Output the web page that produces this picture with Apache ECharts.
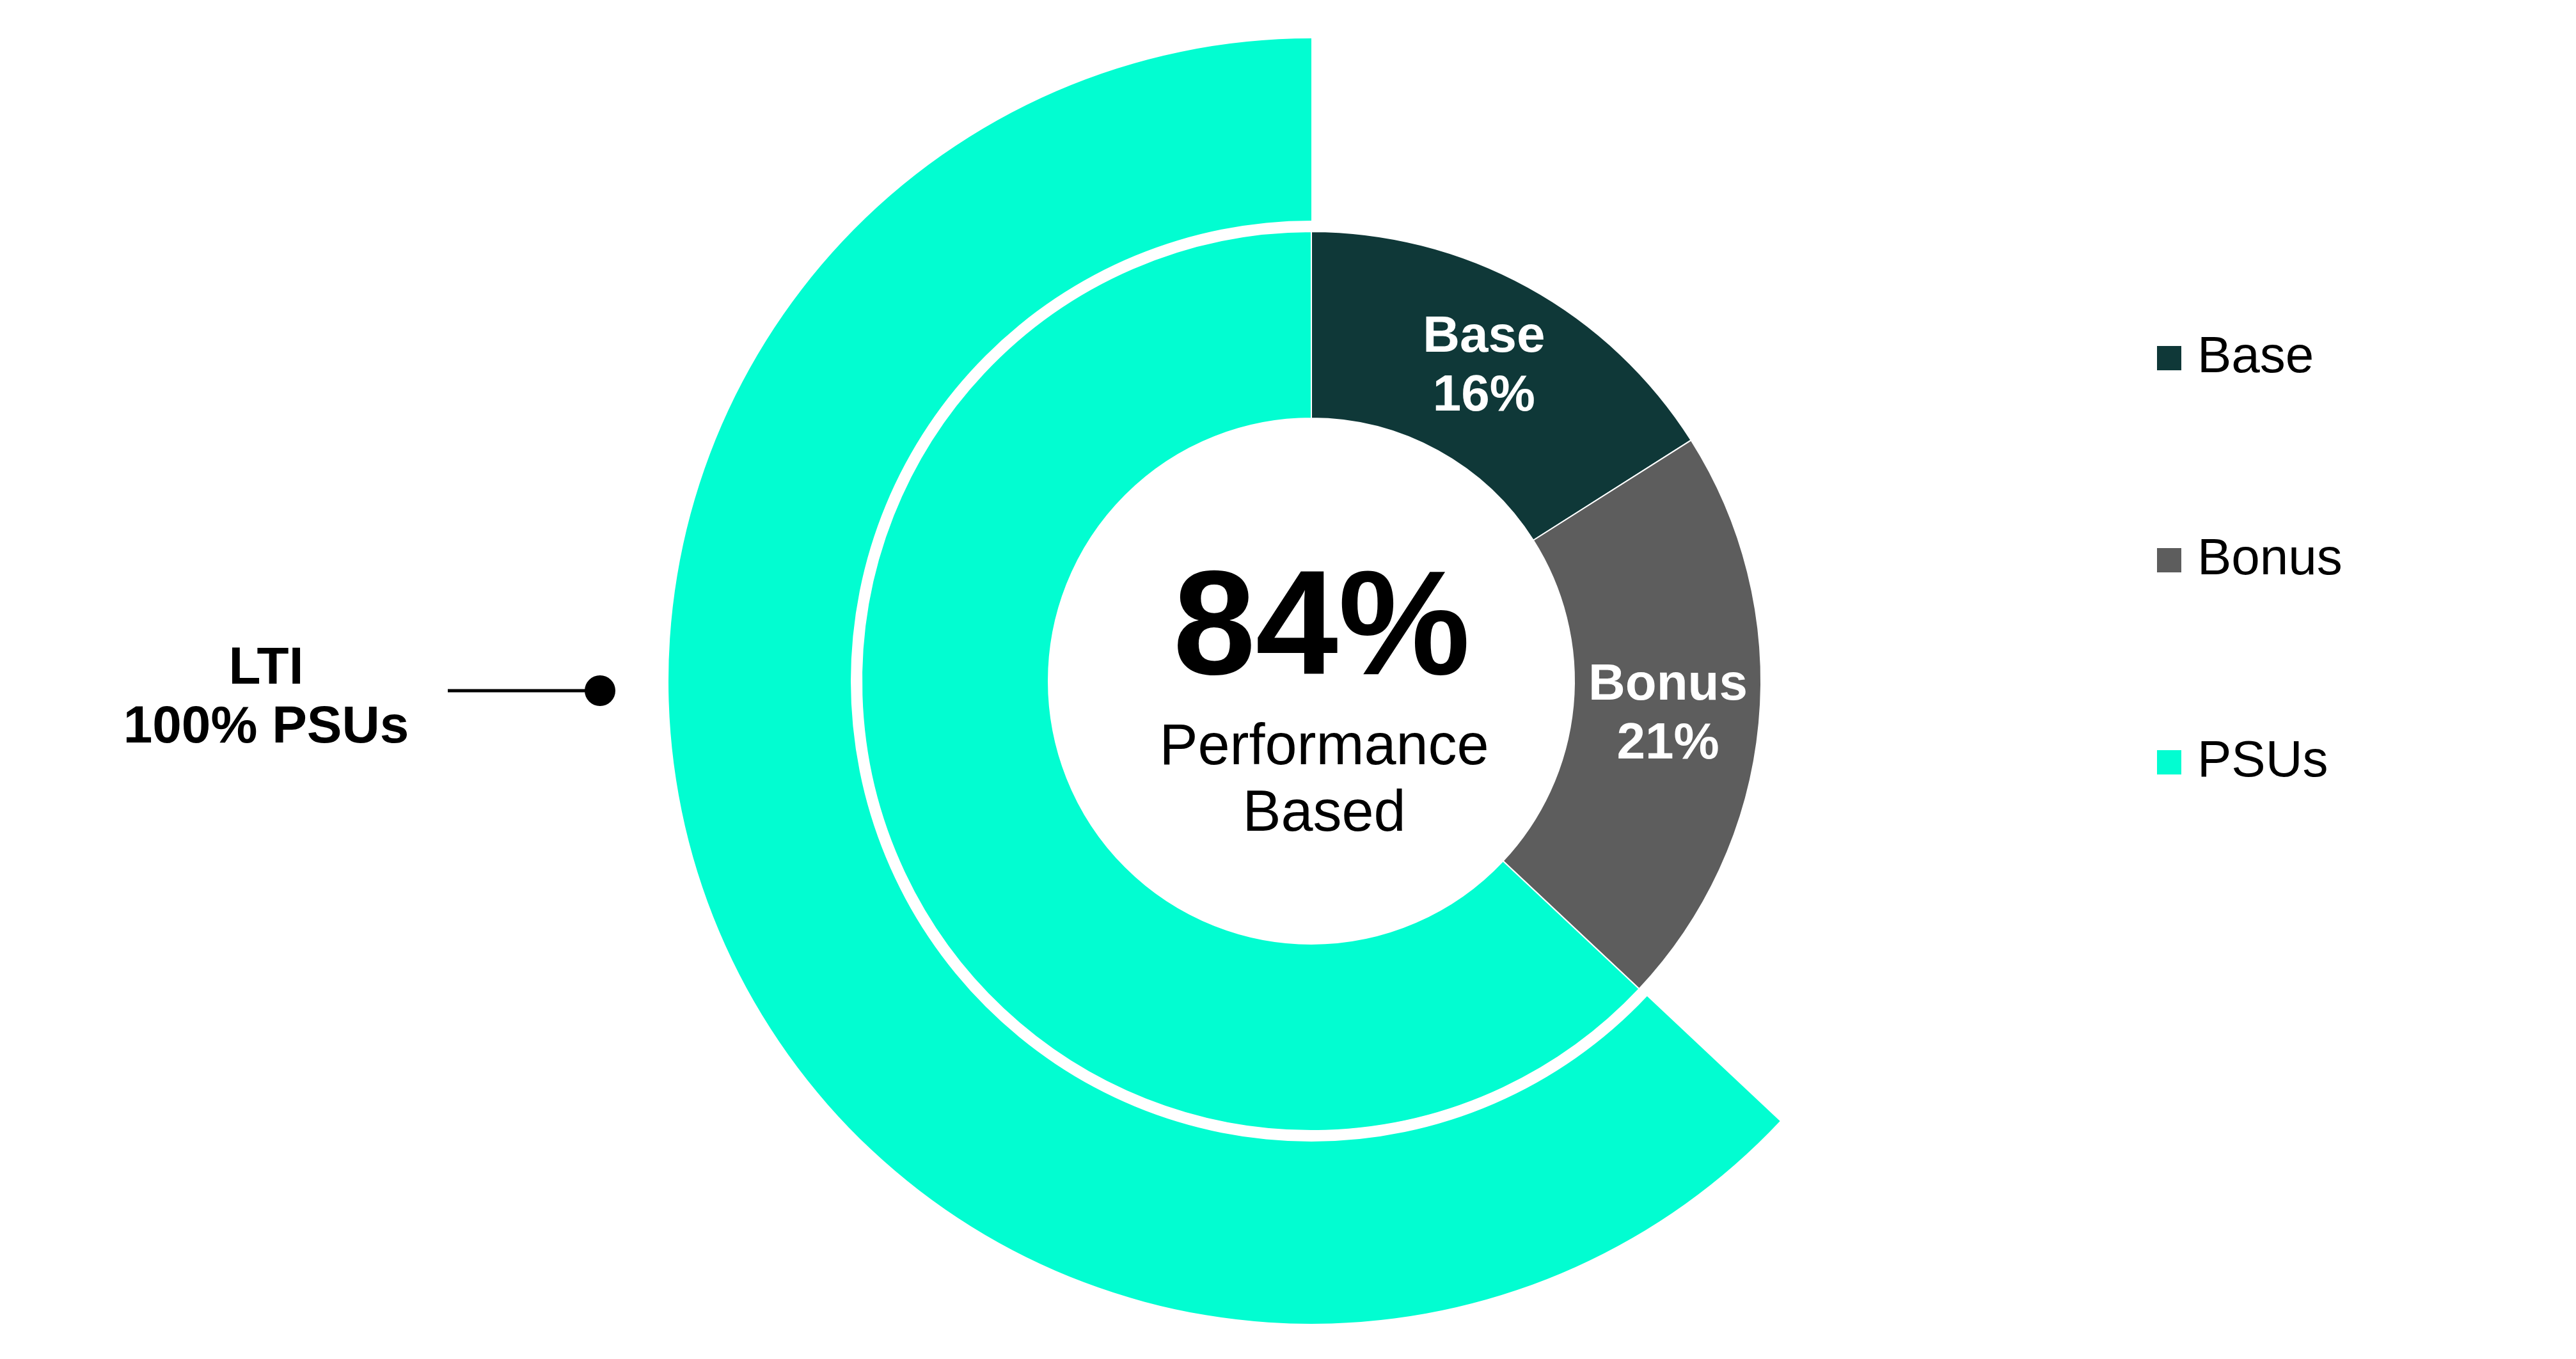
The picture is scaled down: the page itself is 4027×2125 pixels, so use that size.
<!DOCTYPE html>
<html>
<head>
<meta charset="utf-8">
<script src="https://cdn.jsdelivr.net/npm/echarts@6/dist/echarts.min.js"></script>
<style>
  html, body { margin: 0; padding: 0; background: #fff; }
  #main { width: 4027px; height: 2125px; }
</style>
</head>
<body>
<div id="main"></div>
<script>
// pay mix (inner ring)
const categories = ['Base', 'Bonus', 'PSUs'];
const payMix = [16, 21, 63];
const mixColors = ['#0f3838', '#5d5d5d', '#02fdd1'];

// outer arc: gap before LTI, LTI share
const arcNames = ['', 'LTI'];
const arcValues = [37, 63];

const headline = '84%';
const headlineSub = 'Performance\nBased';
const calloutText = 'LTI\n100% PSUs';

const FONT = '"Liberation Sans", Arial, sans-serif';

let chart = echarts.init(document.getElementById('main'));

let innerData = [];
for (let i = 0; i < categories.length; i++) {
    innerData.push({
        name: categories[i],
        value: payMix[i],
        itemStyle: { color: mixColors[i] },
        label: { show: i < 2 }   // no label on the PSU slice
    });
}

let outerData = [
    { name: arcNames[0], value: arcValues[0], itemStyle: { color: 'rgba(0,0,0,0)' } },
    { name: arcNames[1], value: arcValues[1], itemStyle: { color: mixColors[2] } }
];

let option = {
    backgroundColor: '#ffffff',
    animation: false,
    legend: {
        orient: 'vertical',
        left: 3365,
        top: 515,
        itemWidth: 40,
        itemHeight: 40,
        itemGap: 236,
        icon: 'rect',
        data: categories,
        textStyle: {
            fontFamily: FONT,
            fontSize: 80,
            lineHeight: 80,
            color: '#000',
            padding: [0, 0, 0, 19]
        }
    },
    series: [
        {
            name: 'LTI',
            type: 'pie',
            center: [2050, 1065],
            radius: [720, 1005],
            startAngle: 90,
            clockwise: true,
            silent: true,
            label: { show: false },
            labelLine: { show: false },
            data: outerData
        },
        {
            name: 'Pay mix',
            type: 'pie',
            center: [2050, 1065],
            radius: [411, 703],
            startAngle: 90,
            clockwise: true,
            itemStyle: { borderColor: '#ffffff', borderWidth: 2 },
            label: {
                position: 'inside',
                color: '#ffffff',
                fontFamily: FONT,
                fontWeight: 'bold',
                fontSize: 80,
                lineHeight: 92,
                formatter: function (p) {
                    return p.name + '\n' + p.value + '%';
                }
            },
            labelLine: { show: false },
            data: innerData
        }
    ],
    graphic: [
        {
            type: 'text',
            style: {
                text: headline, x: 2066, y: 990,
                align: 'center', verticalAlign: 'middle',
                font: 'bold 232px ' + FONT, fill: '#000'
            }
        },
        {
            type: 'text',
            style: {
                text: headlineSub, x: 2070, y: 1118,
                align: 'center', verticalAlign: 'top',
                font: '90px ' + FONT, fill: '#000', lineHeight: 104
            }
        },
        {
            type: 'text',
            style: {
                text: calloutText, x: 416, y: 1000,
                align: 'center', verticalAlign: 'top',
                font: 'bold 82px ' + FONT, fill: '#000', lineHeight: 92
            }
        },
        {
            type: 'line',
            shape: { x1: 700, y1: 1080, x2: 938, y2: 1080 },
            style: { stroke: '#000', lineWidth: 5 }
        },
        {
            type: 'circle',
            shape: { cx: 938, cy: 1080, r: 24 },
            style: { fill: '#000' }
        }
    ]
};

chart.setOption(option);
</script>
</body>
</html>
